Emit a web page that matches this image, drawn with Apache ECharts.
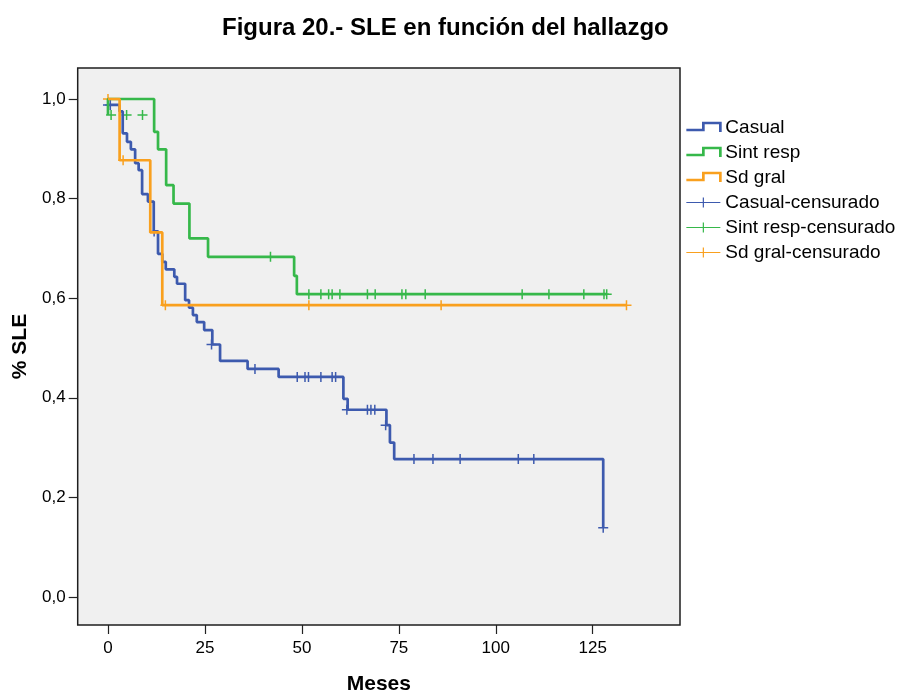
<!DOCTYPE html>
<html>
<head>
<meta charset="utf-8">
<script src="https://cdn.jsdelivr.net/npm/echarts@6/dist/echarts.min.js"></script>
<style>
  html, body { margin: 0; padding: 0; background: #ffffff; }
  #chart { width: 897px; height: 693px; }
</style>
</head>
<body>
<div id="chart"></div>
<script>
// Kaplan–Meier curves: [months, survival after the step]
const casualSteps = [
  [0, 0.988], [3.0, 0.975], [3.8, 0.931], [4.9, 0.914], [5.9, 0.899], [7.0, 0.871],
  [7.9, 0.857], [8.8, 0.809], [10.3, 0.794], [11.8, 0.734], [12.9, 0.689], [14.0, 0.673],
  [14.9, 0.658], [17.1, 0.643], [17.8, 0.629], [19.9, 0.596], [20.9, 0.581], [21.9, 0.566],
  [22.9, 0.552], [24.8, 0.536], [26.9, 0.507], [28.9, 0.474], [36.0, 0.458], [44.0, 0.442],
  [60.7, 0.398], [61.8, 0.376], [71.8, 0.345], [72.7, 0.310], [73.8, 0.277], [127.7, 0.139]
];
const sintRespSteps = [
  [0, 0.968], [0, 1.0], [11.9, 0.934], [12.9, 0.899], [15.0, 0.827], [16.9, 0.790],
  [21.0, 0.720], [25.8, 0.683], [48.0, 0.645], [48.7, 0.608], [128.6, 0.608]
];
const sdGralSteps = [
  [0, 1.0], [3.0, 0.877], [10.9, 0.732], [14.0, 0.586], [133.7, 0.586]
];

// Censored observations: [months, survival]
const casualCensored = [
  [0, 0.988], [0.6, 0.988], [11.9, 0.734], [26.7, 0.507], [37.9, 0.458],
  [48.8, 0.442], [50.8, 0.442], [51.7, 0.442], [54.9, 0.442], [57.8, 0.442], [58.7, 0.442],
  [61.6, 0.376], [66.9, 0.376], [67.8, 0.376], [68.8, 0.376], [71.6, 0.345],
  [78.9, 0.277], [83.8, 0.277], [90.8, 0.277], [105.8, 0.277], [109.8, 0.277], [127.7, 0.139]
];
const sintRespCensored = [
  [0.8, 0.968], [4.8, 0.968], [8.9, 0.968], [41.9, 0.683],
  [51.8, 0.608], [54.9, 0.608], [56.9, 0.608], [57.8, 0.608], [59.8, 0.608], [66.9, 0.608],
  [68.9, 0.608], [75.8, 0.608], [76.8, 0.608], [81.8, 0.608], [106.8, 0.608], [113.7, 0.608],
  [122.7, 0.608], [127.9, 0.608], [128.6, 0.608]
];
const sdGralCensored = [
  [0, 1.0], [3.9, 0.877], [14.8, 0.586], [51.8, 0.586], [85.9, 0.586], [133.7, 0.586]
];

const xTicks = [0, 25, 50, 75, 100, 125];
const yTicks = [0, 0.2, 0.4, 0.6, 0.8, 1.0];

const BLUE = '#3d5aae';
const GREEN = '#36b84a';
const ORANGE = '#f9a01e';
const FONT = 'Liberation Sans';

const plusSymbol = 'path://M5,0V10M0,5H10';
const stepIcon = 'path://M0,7H17V0H34V9';
const censorIcon = 'path://M0,5H34M17,0V10';

function stepSeries(name, data, color) {
  return {
    name: name, type: 'line', step: 'end', data: data,
    symbol: 'none', silent: true,
    lineStyle: { color: color, width: 2.7 },
    itemStyle: { color: color }
  };
}
function censorSeries(name, data, color) {
  return {
    name: name, type: 'scatter', data: data, silent: true,
    symbol: plusSymbol, symbolSize: 10,
    itemStyle: { color: 'rgba(0,0,0,0)', borderColor: color, borderWidth: 1.5, opacity: 1 }
  };
}
function legendItem(name, icon, color, width) {
  return { name: name, icon: icon,
    itemStyle: { color: 'rgba(0,0,0,0)', borderColor: color, borderWidth: width } };
}

const chart = echarts.init(document.getElementById('chart'), null, { renderer: 'canvas' });
chart.setOption({
  animation: false,
  backgroundColor: '#ffffff',
  title: {
    text: 'Figura 20.- SLE en función del hallazgo',
    left: 217, top: 11,
    textStyle: { fontFamily: FONT, fontWeight: 'bold', fontSize: 24, color: '#000' }
  },
  grid: {
    left: 77.7, right: 217, top: 68, bottom: 68,
    containLabel: false, outerBoundsMode: 'none',
    show: true, backgroundColor: '#f0f0f0', borderColor: '#1e1e1e', borderWidth: 1.5
  },
  legend: {
    orient: 'vertical', left: 685, top: 118, padding: 0,
    itemWidth: 34, itemHeight: 14, itemGap: 6, selectedMode: false,
    textStyle: { fontFamily: FONT, fontSize: 19, color: '#000', lineHeight: 19 },
    data: [
      legendItem('Casual', stepIcon, BLUE, 2.7),
      legendItem('Sint resp', stepIcon, GREEN, 2.7),
      legendItem('Sd gral', stepIcon, ORANGE, 2.7),
      legendItem('Casual-censurado', censorIcon, BLUE, 1.2),
      legendItem('Sint resp-censurado', censorIcon, GREEN, 1.2),
      legendItem('Sd gral-censurado', censorIcon, ORANGE, 1.2)
    ]
  },
  xAxis: {
    type: 'value', min: -7.81, max: 147.5,
    name: 'Meses', nameLocation: 'middle', nameGap: 49,
    nameTextStyle: { fontFamily: FONT, fontWeight: 'bold', fontSize: 21, color: '#000' },
    axisLine: { show: false, onZero: false },
    splitLine: { show: false },
    axisTick: { show: true, length: 9, customValues: xTicks, lineStyle: { color: '#222', width: 1.2 } },
    axisLabel: { customValues: xTicks, margin: 15, fontFamily: FONT, fontSize: 17, color: '#000' }
  },
  yAxis: {
    type: 'value', min: -0.0562, max: 1.0622,
    name: '% SLE', nameLocation: 'middle', nameGap: 47,
    nameTextStyle: { fontFamily: FONT, fontWeight: 'bold', fontSize: 21, color: '#000' },
    axisLine: { show: false, onZero: false },
    splitLine: { show: false },
    axisTick: { show: true, length: 9, customValues: yTicks, lineStyle: { color: '#222', width: 1.2 } },
    axisLabel: {
      customValues: yTicks, margin: 12, fontFamily: FONT, fontSize: 17, color: '#000',
      formatter: v => v.toFixed(1).replace('.', ',')
    }
  },
  series: [
    stepSeries('Casual', casualSteps, BLUE),
    stepSeries('Sint resp', sintRespSteps, GREEN),
    stepSeries('Sd gral', sdGralSteps, ORANGE),
    censorSeries('Casual-censurado', casualCensored, BLUE),
    censorSeries('Sint resp-censurado', sintRespCensored, GREEN),
    censorSeries('Sd gral-censurado', sdGralCensored, ORANGE)
  ]
});
</script>
</body>
</html>
